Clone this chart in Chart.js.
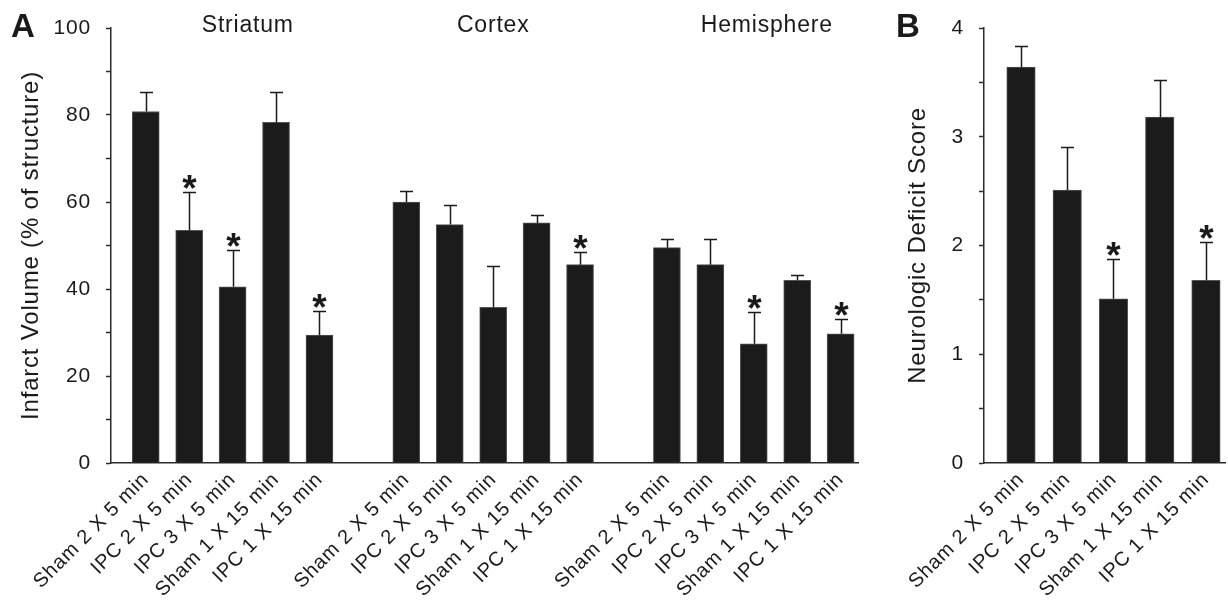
<!DOCTYPE html>
<html>
<head>
<meta charset="utf-8">
<script src="https://cdn.jsdelivr.net/npm/chart.js@4.4.0/dist/chart.umd.min.js"></script>
<style>
  html, body { margin: 0; padding: 0; background: #fff; }
  #wrap { position: relative; width: 1228px; height: 603px; overflow: hidden; }
  #boxA { position: absolute; left: 0; top: 0; width: 875px; height: 603px; }
  #boxB { position: absolute; left: 880px; top: 0; width: 348px; height: 603px; }
</style>
</head>
<body>
<div id="wrap">
  <div id="boxA"><canvas id="chartA" width="875" height="603"></canvas></div>
  <div id="boxB"><canvas id="chartB" width="348" height="603"></canvas></div>
</div>
<script>
// Treatment groups (same order in every region and in panel B)
const categories = ['Sham 2 X 5 min', 'IPC 2 X 5 min', 'IPC 3 X 5 min', 'Sham 1 X 15 min', 'IPC 1 X 15 min'];
const regions = ['Striatum', 'Cortex', 'Hemisphere'];

// Panel A: infarct volume, % of structure (mean and SEM)
const striatumMean   = [80.8, 53.5, 40.5, 78.3, 29.4];
const striatumSem    = [4.5, 8.9, 8.4, 7.0, 5.5];
const striatumSig    = [false, true, true, false, true];
const cortexMean     = [60.0, 54.8, 35.8, 55.2, 45.6];
const cortexSem      = [2.5, 4.4, 9.6, 1.8, 2.8];
const cortexSig      = [false, false, false, false, true];
const hemisphereMean = [49.5, 45.6, 27.4, 42.0, 29.7];
const hemisphereSem  = [2.0, 6.0, 7.3, 1.3, 3.4];
const hemisphereSig  = [false, false, true, false, true];

// Panel B: neurologic deficit score (mean and SEM)
const deficitMean = [3.64, 2.51, 1.51, 3.18, 1.68];
const deficitSem  = [0.19, 0.40, 0.37, 0.34, 0.35];
const deficitSig  = [false, false, true, false, true];

// Axis tick labels
const volumeTicks  = [0, 20, 40, 60, 80, 100];
const deficitTicks = [0, 1, 2, 3, 4];

const FONT = "'Liberation Sans', Arial, Helvetica, sans-serif";
const INK = '#1a1a1a';
const BAR = '#1b1b1b';

// Each region occupies one slot per group plus one empty slot as a separator
const SLOTS_PER_REGION = categories.length + 1;

function buildRegionData() {
  const means = [striatumMean, cortexMean, hemisphereMean];
  const sems = [striatumSem, cortexSem, hemisphereSem];
  const sigs = [striatumSig, cortexSig, hemisphereSig];
  const data = [], sem = [], sig = [];
  regions.forEach((r, ri) => {
    categories.forEach((c, ci) => {
      data.push({ x: ri * SLOTS_PER_REGION + ci, y: means[ri][ci] });
      sem.push(sems[ri][ci]);
      sig.push(sigs[ri][ci]);
    });
  });
  return { data, sem, sig };
}

// Letter spacing for all canvas text
const spacing = {
  id: 'spacing',
  beforeDraw(chart) { chart.ctx.letterSpacing = '0.8px'; }
};

// Upward SEM whiskers with caps, plus significance asterisks
const errorBars = {
  id: 'errorBars',
  afterDatasetsDraw(chart) {
    const { ctx, scales: { x, y } } = chart;
    const ds = chart.data.datasets[0];
    ctx.save();
    ctx.strokeStyle = INK;
    ctx.lineWidth = 1.5;
    ctx.letterSpacing = '0px';
    ds.data.forEach((pt, i) => {
      const px = Math.round(x.getPixelForValue(pt.x)) + 0.5;
      const y0 = y.getPixelForValue(pt.y);
      const y1 = Math.round(y.getPixelForValue(pt.y + ds.sem[i])) + 0.5;
      ctx.beginPath();
      ctx.moveTo(px, y0);
      ctx.lineTo(px, y1);
      ctx.moveTo(px - 6.5, y1);
      ctx.lineTo(px + 6.5, y1);
      ctx.stroke();
      if (ds.sig[i]) {
        ctx.font = 'bold 37px ' + FONT;
        ctx.fillStyle = INK;
        ctx.textAlign = 'center';
        ctx.textBaseline = 'alphabetic';
        const m = ctx.measureText('*');
        const yc = y1 - 11;
        const base = yc - (m.actualBoundingBoxDescent - m.actualBoundingBoxAscent) / 2;
        ctx.fillText('*', px, base);
      }
    });
    ctx.restore();
  }
};

// Panel letters and region headings
const annotations = {
  id: 'annotations',
  afterDraw(chart, args, opts) {
    const { ctx, scales: { x } } = chart;
    ctx.save();
    ctx.fillStyle = INK;
    ctx.textBaseline = 'alphabetic';
    ctx.letterSpacing = '0px';
    ctx.font = 'bold 33px ' + FONT;
    ctx.textAlign = 'left';
    ctx.fillText(opts.letter, opts.letterX, 37);
    if (opts.headings) {
      ctx.letterSpacing = '0.8px';
      ctx.font = '23px ' + FONT;
      ctx.textAlign = 'center';
      const shift = [0.35, 0, 0.3];
      regions.forEach((r, ri) => {
        const cx = x.getPixelForValue(ri * SLOTS_PER_REGION + 2 + shift[ri]);
        ctx.fillText(r, cx, 32);
      });
    }
    ctx.restore();
  }
};

function makeOptions(cfg) {
  return {
    responsive: false,
    animation: false,
    events: [],
    layout: { padding: { top: 28, right: cfg.padRight, left: 0, bottom: 0 } },
    plugins: {
      legend: { display: false },
      tooltip: { enabled: false },
      annotations: cfg.annotations
    },
    scales: {
      x: {
        type: 'linear',
        min: -0.8,
        max: cfg.xMax,
        offset: false,
        afterFit(scale) { scale.height = 140; },
        afterBuildTicks(scale) { scale.ticks = cfg.slots.map(v => ({ value: v })); },
        grid: { display: true, drawOnChartArea: false, drawTicks: false, offset: false },
        border: { display: true, color: '#2a2a2a', width: 1.5 },
        ticks: {
          autoSkip: false,
          minRotation: 45,
          maxRotation: 45,
          padding: 5,
          color: INK,
          font: { family: FONT, size: 20 },
          callback: cfg.labelFor
        }
      },
      y: {
        min: 0,
        max: cfg.yMax,
        afterFit(scale) { scale.width = cfg.yWidth; },
        grid: { display: true, drawOnChartArea: false, drawTicks: true, tickLength: 5, tickColor: '#2a2a2a', tickWidth: 1.5 },
        border: { display: true, color: '#2a2a2a', width: 1.5 },
        ticks: {
          stepSize: cfg.minorStep,
          autoSkip: false,
          padding: 15,
          color: INK,
          font: { family: FONT, size: 21 },
          callback: v => (cfg.majorTicks.includes(v) ? String(v) : '')
        },
        title: {
          display: true,
          text: cfg.yTitle,
          color: INK,
          font: { family: FONT, size: 24 },
          padding: { top: cfg.titlePad, bottom: 0 }
        }
      }
    }
  };
}

// Panel A
const regionData = buildRegionData();
const slotsA = regionData.data.map(p => p.x);
new Chart(document.getElementById('chartA'), {
  type: 'bar',
  data: {
    datasets: [{
      data: regionData.data,
      sem: regionData.sem,
      sig: regionData.sig,
      backgroundColor: BAR,
      borderColor: '#555',
      borderWidth: 1,
      barThickness: 27
    }]
  },
  options: makeOptions({
    padRight: 17,
    xMax: 16.4,
    slots: slotsA,
    labelFor: v => categories[v % SLOTS_PER_REGION] || '',
    yMax: 100,
    yWidth: 111,
    minorStep: 10,
    majorTicks: volumeTicks,
    yTitle: 'Infarct Volume (% of structure)',
    titlePad: 17,
    annotations: { letter: 'A', letterX: 11, headings: true }
  }),
  plugins: [spacing, errorBars, annotations]
});

// Panel B
new Chart(document.getElementById('chartB'), {
  type: 'bar',
  data: {
    datasets: [{
      data: deficitMean.map((m, i) => ({ x: i, y: m })),
      sem: deficitSem,
      sig: deficitSig,
      backgroundColor: BAR,
      borderColor: '#555',
      borderWidth: 1,
      barThickness: 28.5
    }]
  },
  options: makeOptions({
    padRight: 1,
    xMax: 4.43,
    slots: categories.map((c, i) => i),
    labelFor: v => categories[v] || '',
    yMax: 4,
    yWidth: 104,
    minorStep: 0.5,
    majorTicks: deficitTicks,
    yTitle: 'Neurologic Deficit Score',
    titlePad: 24,
    annotations: { letter: 'B', letterX: 16, headings: false }
  }),
  plugins: [spacing, errorBars, annotations]
});
</script>
</body>
</html>
